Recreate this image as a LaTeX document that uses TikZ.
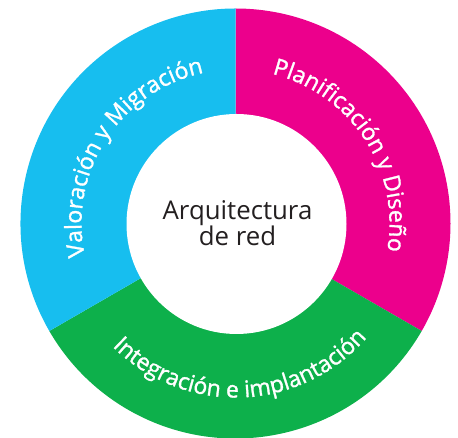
\documentclass[tikz,border=0pt]{standalone}
\usepackage{fontspec}
\setmainfont{Open Sans}
\newfontfamily\ringfont[FakeBold=1.3]{Open Sans}
\usetikzlibrary{calc,decorations.text}
\definecolor{segblue}{HTML}{17BEEF}
\definecolor{segpink}{HTML}{EC008C}
\definecolor{seggreen}{HTML}{0DB04B}
\definecolor{centertext}{HTML}{231F20}
\tikzset{
  ringtext/.style={decorate, decoration={text along path, text align=center, text color=white, text={#1}}},
  centerlabel/.style={align=center, text=centertext, font=\fontsize{25.8}{26}\selectfont, inner sep=0pt}
}
\begin{document}
\begin{tikzpicture}
\useasboundingbox (0,0) rectangle (458pt,438pt);
\coordinate (C) at (235.5pt,214.5pt);
% sectors
\fill[segpink] (C) -- ($(C)+(90:215pt)$) arc[start angle=90,end angle=-30,radius=215pt] -- cycle;
\fill[seggreen] (C) -- ($(C)+(-30:215pt)$) arc[start angle=-30,end angle=-150,radius=215pt] -- cycle;
\fill[segblue] (C) -- ($(C)+(210:215pt)$) arc[start angle=210,end angle=90,radius=215pt] -- cycle;
\fill[white] ($(C)+(1pt,-0.5pt)$) circle (110pt);
% ring labels
\path[ringtext={|\ringfont\fontsize{23}{23}\selectfont|Planificación y Diseño}]
  ($(C)+(103:154pt)$) arc[start angle=103,end angle=-37,radius=154pt];
\path[ringtext={|\ringfont\fontsize{23}{23}\selectfont|Valoración y Migración}]
  ($(C)+(217:154pt)$) arc[start angle=217,end angle=77,radius=154pt];
\path[ringtext={|\ringfont\fontsize{23}{23}\selectfont|Integración e implantación}]
  ($(C)+(202:174pt)$) arc[start angle=202,end angle=342,radius=174pt];
% centre
\node[centerlabel] (title) at ($(C)+(2pt,0pt)$) {Arquitectura\\de red};
\end{tikzpicture}
\end{document}
